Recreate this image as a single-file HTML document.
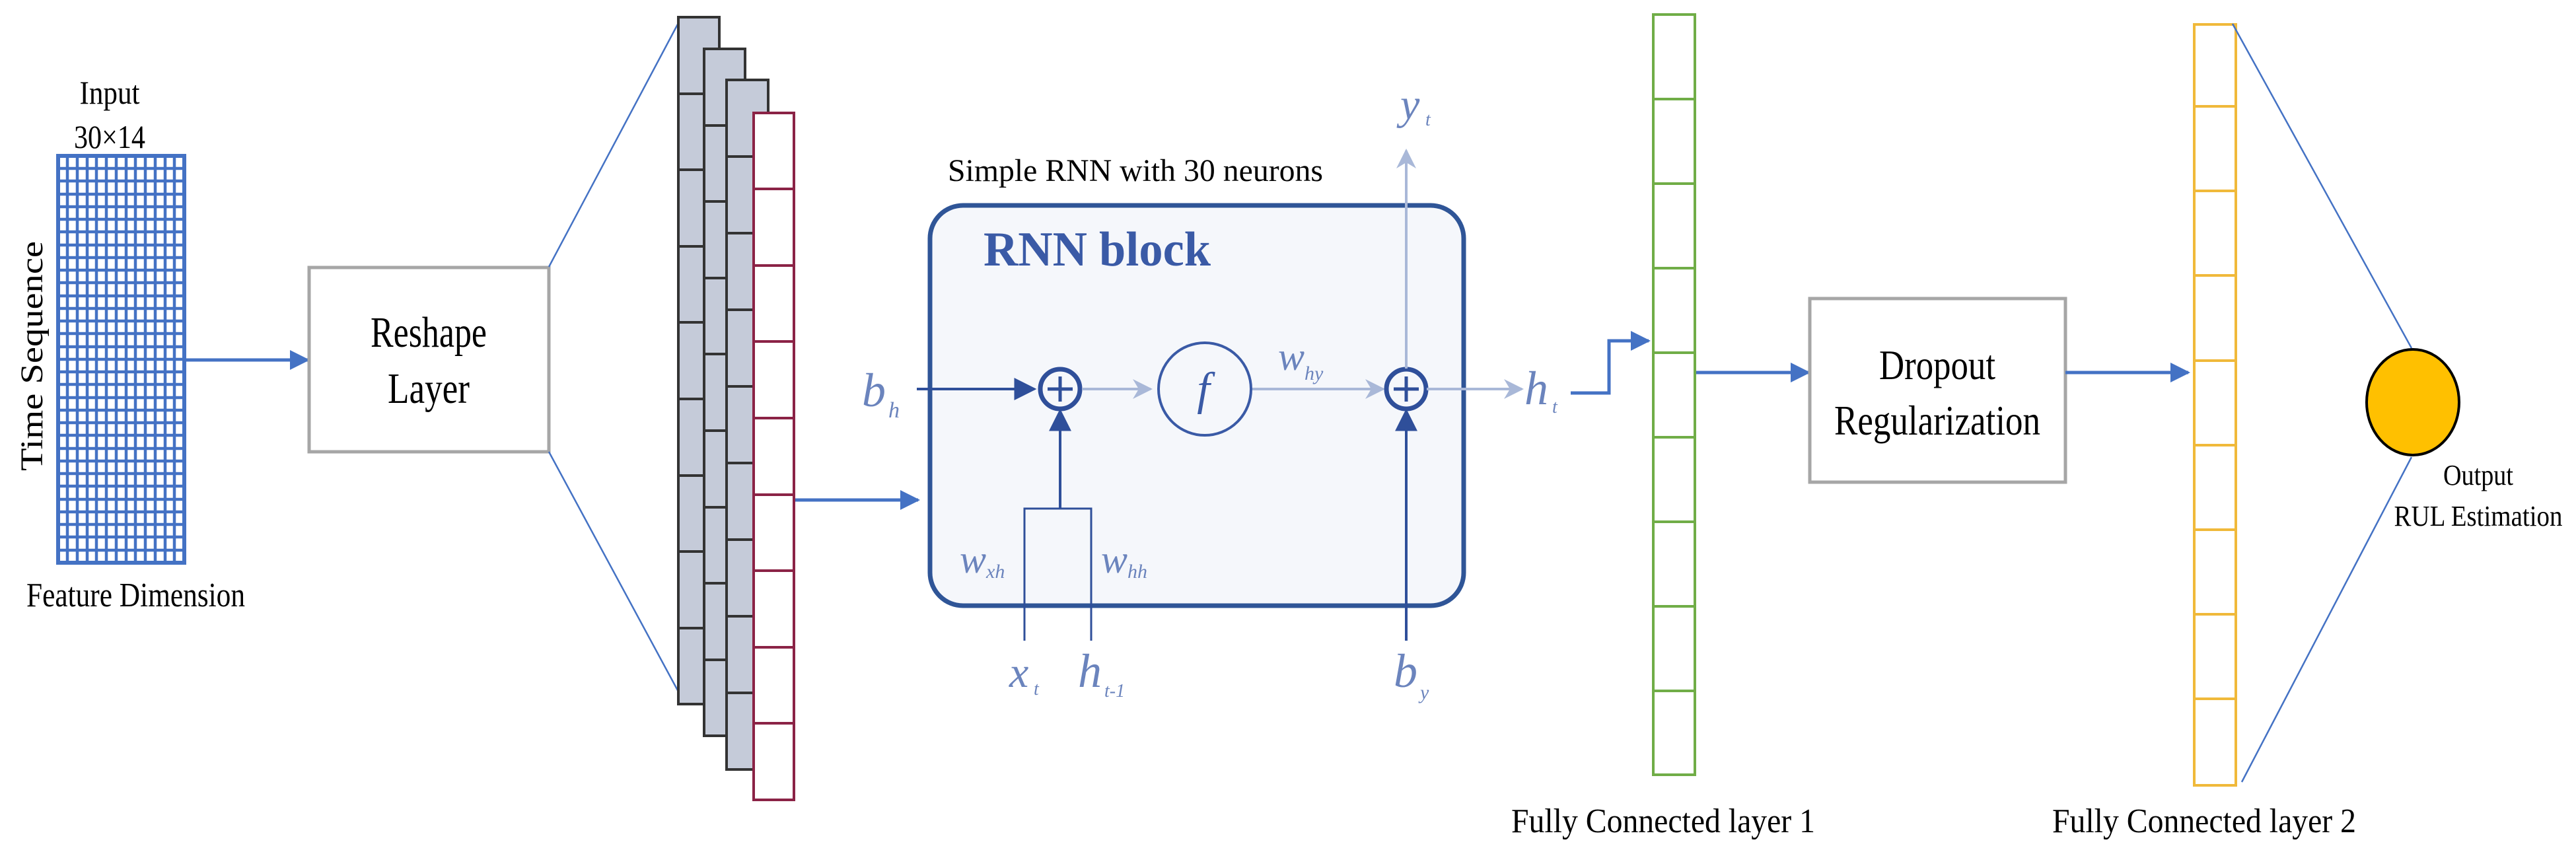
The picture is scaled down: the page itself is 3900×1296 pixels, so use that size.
<!DOCTYPE html>
<html><head><meta charset="utf-8"><style>html,body{margin:0;padding:0;background:#fff}svg{display:block}text{font-family:"Liberation Serif","Times New Roman","DejaVu Serif",serif}</style></head>
<body>
<svg width="3900" height="1296" viewBox="0 0 3900 1296" xmlns="http://www.w3.org/2000/svg">
<defs>
<marker id="ad" viewBox="0 0 10 10" refX="9" refY="5" markerWidth="34" markerHeight="34" orient="auto" markerUnits="userSpaceOnUse"><path d="M0,0 L10,5 L0,10 z" fill="#2f4f9a"/></marker>
<marker id="al" viewBox="0 0 10 10" refX="9" refY="5" markerWidth="30" markerHeight="30" orient="auto" markerUnits="userSpaceOnUse"><path d="M0,0 L10,5 L0,10 L3,5 z" fill="#a9b8d8"/></marker>
<marker id="ab2" viewBox="0 0 10 10" refX="9" refY="5" markerWidth="30" markerHeight="30" orient="auto" markerUnits="userSpaceOnUse"><path d="M0,0 L10,5 L0,10 z" fill="#4472c4"/></marker>
</defs>
<g fill="#000">
<text x="166" y="157" font-size="50" text-anchor="middle" textLength="91" lengthAdjust="spacingAndGlyphs">Input</text>
<text x="166" y="224" font-size="50" text-anchor="middle" textLength="108" lengthAdjust="spacingAndGlyphs">30×14</text>
<g stroke="#4472c4" stroke-width="4.5" fill="none">
<rect x="88" y="236" width="191" height="616" stroke-width="6"/>
<path d="M102,236V852M117,236V852M132,236V852M146,236V852M161,236V852M176,236V852M191,236V852M205,236V852M220,236V852M235,236V852M250,236V852M264,236V852"/>
<path d="M88,255H279M88,274H279M88,294H279M88,313H279M88,332H279M88,351H279M88,371H279M88,390H279M88,409H279M88,428H279M88,448H279M88,467H279M88,486H279M88,505H279M88,525H279M88,544H279M88,563H279M88,582H279M88,602H279M88,621H279M88,640H279M88,659H279M88,679H279M88,698H279M88,717H279M88,736H279M88,756H279M88,775H279M88,794H279M88,813H279M88,833H279"/>
</g>
<text transform="translate(64,539) rotate(-90)" font-size="48" text-anchor="middle" textLength="348" lengthAdjust="spacingAndGlyphs">Time Sequence</text>
<text x="40" y="918" font-size="52" textLength="331" lengthAdjust="spacingAndGlyphs">Feature Dimension</text>
<line x1="279" y1="545" x2="466" y2="545" stroke="#4472c4" stroke-width="5" marker-end="url(#ab2)"/>
<rect x="468" y="405" width="363" height="279" fill="#fff" stroke="#a6a6a6" stroke-width="5"/>
<text x="649" y="525" font-size="66" text-anchor="middle" textLength="176" lengthAdjust="spacingAndGlyphs">Reshape</text>
<text x="649" y="610" font-size="66" text-anchor="middle" textLength="124" lengthAdjust="spacingAndGlyphs">Layer</text>
<line x1="831" y1="404" x2="1028" y2="33" stroke="#4472c4" stroke-width="2.5"/>
<line x1="831" y1="684" x2="1028" y2="1049" stroke="#4472c4" stroke-width="2.5"/>
<g stroke="#333" stroke-width="4" fill="#c5cbd9">
<rect x="1027" y="26" width="62" height="1040"/>
<path d="M1027,142H1089M1027,257H1089M1027,373H1089M1027,488H1089M1027,604H1089M1027,720H1089M1027,835H1089M1027,951H1089"/>
<rect x="1066" y="74" width="62" height="1040"/>
<path d="M1066,190H1128M1066,305H1128M1066,421H1128M1066,536H1128M1066,652H1128M1066,768H1128M1066,883H1128M1066,999H1128"/>
<rect x="1100" y="121" width="63" height="1044"/>
<path d="M1100,237H1163M1100,353H1163M1100,469H1163M1100,585H1163M1100,701H1163M1100,817H1163M1100,933H1163M1100,1049H1163"/>
</g>
<g stroke="#8b2346" stroke-width="4" fill="#fff">
<rect x="1141" y="171" width="61" height="1040"/>
<path d="M1141,286H1202M1141,402H1202M1141,517H1202M1141,633H1202M1141,749H1202M1141,864H1202M1141,980H1202M1141,1095H1202"/>
</g>
<line x1="1204" y1="757" x2="1390" y2="757" stroke="#4472c4" stroke-width="5" marker-end="url(#ab2)"/>
<text x="1435" y="274" font-size="48" textLength="568" lengthAdjust="spacingAndGlyphs">Simple RNN with 30 neurons</text>
<rect x="1408" y="311" width="808" height="606" rx="50" fill="#f5f7fb" stroke="#2f5597" stroke-width="7"/>
<text x="1489" y="402" font-size="74" font-weight="bold" fill="#3a5aa6" textLength="344" lengthAdjust="spacingAndGlyphs">RNN block</text>
<g font-style="italic" fill="#6b84bd">
<text x="1305" y="615" font-size="72">b</text><text x="1345" y="632" font-size="34">h</text>
<text x="1935" y="560" font-size="60">w</text><text x="1975" y="575" font-size="30">hy</text>
<text x="2120" y="180" font-size="66">y</text><text x="2158" y="190" font-size="28">t</text>
<text x="2308" y="612" font-size="72">h</text><text x="2350" y="625" font-size="28">t</text>
<text x="1453" y="867" font-size="60">w</text><text x="1493" y="875" font-size="30">xh</text>
<text x="1667" y="867" font-size="60">w</text><text x="1707" y="875" font-size="30">hh</text>
<text x="1528" y="1040" font-size="66">x</text><text x="1565" y="1052" font-size="28">t</text>
<text x="1632" y="1040" font-size="72">h</text><text x="1672" y="1055" font-size="28">t-1</text>
<text x="2110" y="1040" font-size="72">b</text><text x="2150" y="1058" font-size="30">y</text>
</g>
<line x1="1388" y1="589" x2="1566" y2="589" stroke="#2f4f9a" stroke-width="4" marker-end="url(#ad)"/>
<circle cx="1605" cy="589" r="30" fill="none" stroke="#2f4f9a" stroke-width="7"/>
<path d="M1586,589H1624M1605,570V608" stroke="#2f4f9a" stroke-width="5"/>
<line x1="1638" y1="589" x2="1742" y2="589" stroke="#a9b8d8" stroke-width="4" marker-end="url(#al)"/>
<circle cx="1824" cy="589" r="70" fill="none" stroke="#3a5aa6" stroke-width="4"/>
<text x="1822" y="612" font-size="70" font-style="italic" fill="#3a5aa6" text-anchor="middle">f</text>
<line x1="1896" y1="589" x2="2094" y2="589" stroke="#a9b8d8" stroke-width="4" marker-end="url(#al)"/>
<circle cx="2129" cy="589" r="30" fill="none" stroke="#2f4f9a" stroke-width="7"/>
<path d="M2110,589H2148M2129,570V608" stroke="#2f4f9a" stroke-width="5"/>
<line x1="2129" y1="558" x2="2129" y2="228" stroke="#a9b8d8" stroke-width="4" marker-end="url(#al)"/>
<line x1="2160" y1="589" x2="2304" y2="589" stroke="#a9b8d8" stroke-width="4" marker-end="url(#al)"/>
<line x1="1605" y1="770" x2="1605" y2="622" stroke="#2f4f9a" stroke-width="4" marker-end="url(#ad)"/>
<path d="M1551,970V770H1652V970" fill="none" stroke="#2f4f9a" stroke-width="3"/>
<line x1="2129" y1="970" x2="2129" y2="622" stroke="#2f4f9a" stroke-width="4" marker-end="url(#ad)"/>
<path d="M2378,595H2436V516H2496" fill="none" stroke="#4472c4" stroke-width="5" marker-end="url(#ab2)"/>
<g stroke="#70ad47" stroke-width="4" fill="#fff">
<rect x="2503" y="22" width="63" height="1151"/>
<path d="M2503,150H2566M2503,278H2566M2503,406H2566M2503,534H2566M2503,662H2566M2503,790H2566M2503,918H2566M2503,1046H2566"/>
</g>
<text x="2288" y="1260" font-size="52" textLength="460" lengthAdjust="spacingAndGlyphs">Fully Connected layer 1</text>
<line x1="2568" y1="564" x2="2738" y2="564" stroke="#4472c4" stroke-width="5" marker-end="url(#ab2)"/>
<rect x="2740" y="452" width="387" height="278" fill="#fff" stroke="#a6a6a6" stroke-width="5"/>
<text x="2933" y="574" font-size="64" text-anchor="middle" textLength="176" lengthAdjust="spacingAndGlyphs">Dropout</text>
<text x="2933" y="658" font-size="64" text-anchor="middle" textLength="312" lengthAdjust="spacingAndGlyphs">Regularization</text>
<line x1="3127" y1="564" x2="3313" y2="564" stroke="#4472c4" stroke-width="5" marker-end="url(#ab2)"/>
<g stroke="#f0b93a" stroke-width="4" fill="#fff">
<rect x="3322" y="37" width="63" height="1152"/>
<path d="M3322,161H3385M3322,289H3385M3322,417H3385M3322,546H3385M3322,674H3385M3322,802H3385M3322,930H3385M3322,1058H3385"/>
</g>
<text x="3107" y="1260" font-size="52" textLength="460" lengthAdjust="spacingAndGlyphs">Fully Connected layer 2</text>
<line x1="3380" y1="36" x2="3651" y2="527" stroke="#4472c4" stroke-width="2.5"/>
<line x1="3394" y1="1184" x2="3651" y2="692" stroke="#4472c4" stroke-width="2.5"/>
<ellipse cx="3653" cy="609" rx="70" ry="80" fill="#ffc000" stroke="#000" stroke-width="4"/>
<text x="3752" y="734" font-size="44" text-anchor="middle" textLength="106" lengthAdjust="spacingAndGlyphs">Output</text>
<text x="3752" y="796" font-size="44" text-anchor="middle" textLength="255" lengthAdjust="spacingAndGlyphs">RUL Estimation</text>
</g>
</svg>
</body></html>
